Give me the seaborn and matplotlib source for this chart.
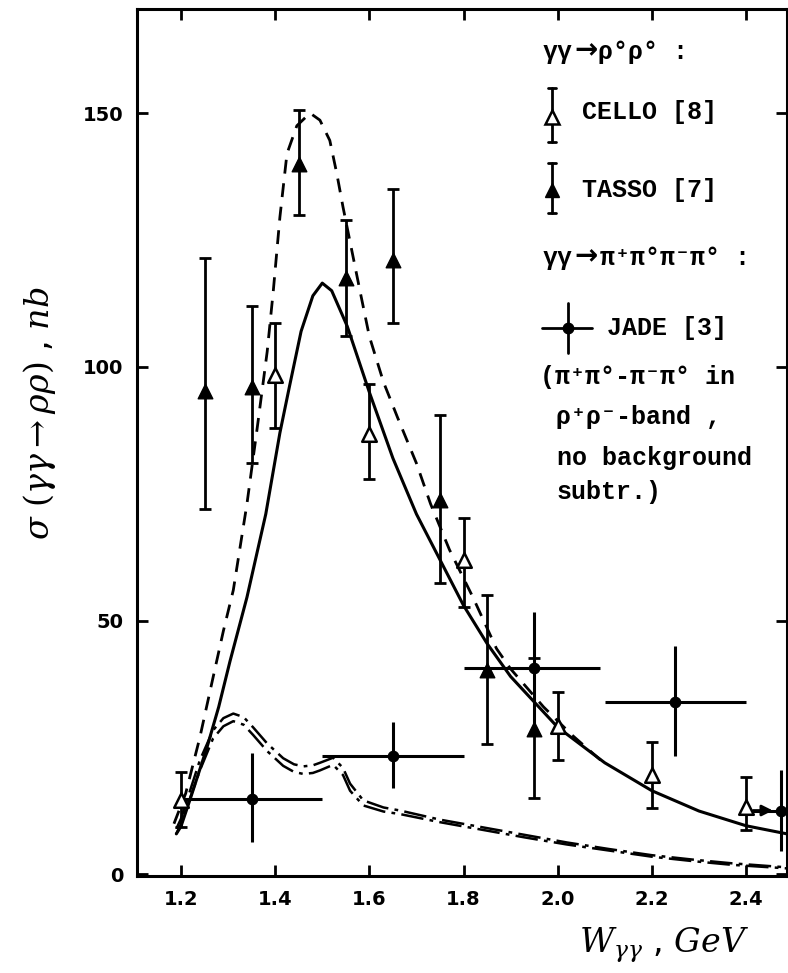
import matplotlib
matplotlib.use("Agg")
import matplotlib.pyplot as plt
import seaborn as sns

# ---------------- data ----------------
# model curves
solid_x = [1.19, 1.20, 1.22, 1.255, 1.28, 1.304, 1.34, 1.38, 1.41, 1.43, 1.455, 1.48, 1.50,
           1.52, 1.553, 1.60, 1.65, 1.70, 1.75, 1.80, 1.85, 1.90, 1.95, 2.00, 2.10, 2.20,
           2.30, 2.40, 2.487]
solid_y = [8, 9.5, 15, 25, 33, 42, 54.6, 71, 87, 96, 107, 114, 116.5,
           115, 108, 95, 82, 71, 62, 53, 45.5, 39, 34, 29, 22, 16.5,
           12.5, 9.6, 8]

dashed_x = [1.185, 1.21, 1.24, 1.268, 1.29, 1.311, 1.34, 1.361, 1.383, 1.396, 1.41, 1.425,
            1.446, 1.474, 1.495, 1.516, 1.531, 1.544, 1.58, 1.60, 1.63, 1.66, 1.70, 1.73,
            1.77, 1.82, 1.87, 1.90, 1.97, 2.03, 2.10]
dashed_y = [10, 16, 27, 38.8, 48, 56, 73, 87.4, 103, 115, 129.5, 142,
            147.5, 150, 148.6, 144.6, 138, 131.5, 115, 106, 97, 90, 81, 73,
            64, 54.6, 44.5, 40.5, 33, 27.5, 21.8]

dd_x = [1.19, 1.20, 1.24, 1.268, 1.29, 1.311, 1.333, 1.353, 1.383, 1.417, 1.44, 1.46, 1.48,
        1.495, 1.523, 1.544, 1.559, 1.587, 1.63, 1.665, 1.75, 1.84, 1.93, 2.02, 2.11, 2.20,
        2.29, 2.37, 2.487]
dd_upper_y = [9, 11, 22.5, 28.4, 30.8, 31.7, 31, 29, 25.8, 22.9, 21.7, 21.3, 21.5,
              22, 23, 21, 17.9, 14.6, 13.2, 12.6, 10.8, 9.3, 7.8, 6.3, 5, 3.8,
              2.9, 2.2, 1.4]
dd_lower_y = [8, 10, 20.5, 26.8, 29.2, 30.2, 29.5, 27.5, 24.3, 21.4, 20.2, 19.8, 20,
              20.5, 21.6, 19.6, 16.5, 13.6, 12.4, 11.9, 10.3, 8.8, 7.3, 5.9, 4.7, 3.5,
              2.6, 1.9, 1.2]

# CELLO (open triangles)
cello_x = [1.2, 1.4, 1.6, 1.8, 2.0, 2.2, 2.4]
cello_y = [14.6, 98.3, 86.8, 61.9, 29.3, 19.5, 13.3]
cello_lo = [5.3, 10.3, 8.8, 9.3, 6.7, 6.5, 4.6]
cello_hi = [5.5, 10.4, 9.9, 8.4, 6.7, 6.5, 6.0]

# TASSO (filled triangles)
tasso_x = [1.25, 1.35, 1.45, 1.55, 1.65, 1.75, 1.85, 1.95]
tasso_y = [95.3, 96, 140, 117.6, 121, 73.7, 40.2, 28.7]
tasso_lo = [23.3, 15, 10, 11.6, 12.3, 16.2, 14.4, 13.7]
tasso_hi = [26.1, 16, 10.6, 11.4, 14, 16.8, 14.8, 14]

# JADE (filled circles, bin widths)
jade_x = [1.35, 1.65, 1.95, 2.25, 2.475]
jade_y = [14.8, 23.4, 40.7, 34, 12.6]
jade_xlo = [0.15, 0.15, 0.15, 0.15, 0.06]
jade_xhi = [0.15, 0.15, 0.14, 0.15, 0.06]
jade_ylo = [8.5, 6.4, 11, 10.6, 7.9]
jade_yhi = [9.2, 6.6, 11, 11, 7.9]

x_ticks = [1.2, 1.4, 1.6, 1.8, 2.0, 2.2, 2.4]
x_tick_labels = ["1.2", "1.4", "1.6", "1.8", "2.0", "2.2", "2.4"]
y_ticks = [0, 50, 100, 150]
y_tick_labels = ["0", "50", "100", "150"]

# ---------------- figure ----------------
sns.set_theme(style="ticks")
plt.rcParams['font.family'] = ['DejaVu Sans']
plt.rcParams['mathtext.fontset'] = 'dejavuserif'

W, H = 788, 973
fig = plt.figure(figsize=(W / 100, H / 100), dpi=100)
fig.patch.set_facecolor('white')
L, R, T, B = 137, 787, 9, 876
ax = fig.add_axes([L / W, 1 - B / H, (R - L) / W, (B - T) / H])
ax.set_facecolor('white')

K = 'black'
sns.lineplot(x=solid_x, y=solid_y, ax=ax, color=K, lw=2.2, sort=False, estimator=None)
sns.lineplot(x=dashed_x, y=dashed_y, ax=ax, color=K, lw=2.0, sort=False, estimator=None,
             linestyle=(0, (5, 3.5)))
sns.lineplot(x=dd_x, y=dd_upper_y, ax=ax, color=K, lw=1.8, sort=False, estimator=None,
             linestyle=(0, (9, 2.5, 1.5, 2.5)))
sns.lineplot(x=dd_x, y=dd_lower_y, ax=ax, color=K, lw=1.8, sort=False, estimator=None,
             linestyle=(3, (9, 2.5, 1.5, 2.5)))

# error bars
ax.errorbar(cello_x, cello_y, yerr=[cello_lo, cello_hi], fmt='none', ecolor=K,
            elinewidth=2, capsize=4, capthick=2, zorder=4)
ax.errorbar(tasso_x, tasso_y, yerr=[tasso_lo, tasso_hi], fmt='none', ecolor=K,
            elinewidth=2, capsize=4, capthick=2, zorder=4)
ax.errorbar(jade_x, jade_y, xerr=[jade_xlo, jade_xhi], yerr=[jade_ylo, jade_yhi],
            fmt='none', ecolor=K, elinewidth=2.2, capsize=0, zorder=4)

sns.scatterplot(x=cello_x, y=cello_y, ax=ax, marker='^', s=110, color='white',
                edgecolor=K, linewidth=1.8, zorder=6)
sns.scatterplot(x=tasso_x, y=tasso_y, ax=ax, marker='^', s=110, color=K,
                edgecolor=K, linewidth=1.0, zorder=6)
sns.scatterplot(x=jade_x, y=jade_y, ax=ax, marker='o', s=55, color=K,
                edgecolor=K, linewidth=1.0, zorder=6)

# arrow on the last JADE bin
ax.annotate('', xy=(jade_x[-1] - 0.018, jade_y[-1]), xytext=(jade_x[-1] - 0.06, jade_y[-1]),
            arrowprops=dict(arrowstyle='-|>', color=K, lw=2, mutation_scale=16,
                            shrinkA=0, shrinkB=0), zorder=5)

ax.set_xlim(1.1065, 2.487)
ax.set_ylim(-0.3, 170.5)
ax.set_xticks(x_ticks)
ax.set_xticklabels(x_tick_labels)
ax.set_yticks(y_ticks)
ax.set_yticklabels(y_tick_labels)
ax.tick_params(direction='in', length=8, width=2, top=True, right=True,
               labelsize=14, pad=10, colors=K)
for lab in ax.get_xticklabels() + ax.get_yticklabels():
    lab.set_fontweight('bold')
for sp in ax.spines.values():
    sp.set_linewidth(2.2)
    sp.set_color(K)

ax.set_xlabel(r"$W_{\gamma\gamma}$ , $GeV$", fontsize=24, color=K)
ax.xaxis.set_label_coords((664 - L) / (R - L), (B - 945) / (B - T))
ax.xaxis.label.set_va('center')
ax.set_ylabel(r"$\sigma\ (\gamma\gamma \rightarrow \rho\rho)$ , $nb$", fontsize=24, color=K)
ax.yaxis.set_label_coords((40 - L) / (R - L), (B - 413) / (B - T))
ax.yaxis.label.set_va('center')

# ---------------- legend (hand drawn style) ----------------
def ax_frac(px, py):
    return ((px - L) / (R - L), (B - py) / (B - T))

mono = ['Liberation Mono', 'DejaVu Sans Mono']
tkw = dict(transform=ax.transAxes, fontsize=18, family=mono, fontweight='bold',
           ha='left', va='center', color=K)
akw = dict(tkw)
akw['family'] = ['DejaVu Sans']
akw['fontsize'] = 20

ax.text(*ax_frac(543, 52), "γγ", **tkw)
ax.text(*ax_frac(574, 50), "→", **akw)
ax.text(*ax_frac(598, 52), "ρ°ρ° :", **tkw)
ax.text(*ax_frac(582, 112), "CELLO [8]", **tkw)
ax.text(*ax_frac(582, 190), "TASSO [7]", **tkw)
ax.text(*ax_frac(543, 258), "γγ", **tkw)
ax.text(*ax_frac(574, 256), "→", **akw)
ax.text(*ax_frac(600, 258), "π⁺π°π⁻π° :", **tkw)
ax.text(*ax_frac(607, 328), "JADE [3]", **tkw)
ax.text(*ax_frac(540, 377), "(π⁺π°-π⁻π° in", **tkw)
ax.text(*ax_frac(556, 417), "ρ⁺ρ⁻-band ,", **tkw)
ax.text(*ax_frac(557, 458), "no background", **tkw)
ax.text(*ax_frac(557, 492), "subtr.)", **tkw)

# legend glyphs
tr = ax.transAxes
def vbar(px, y0, y1, cap=True):
    x0, a = ax_frac(px, y0)
    _, b = ax_frac(px, y1)
    ax.plot([x0, x0], [a, b], color=K, lw=2, transform=tr, clip_on=False)
    if cap:
        for yy in (a, b):
            ax.plot([x0 - 0.006, x0 + 0.006], [yy, yy], color=K, lw=2, transform=tr, clip_on=False)

vbar(552, 88, 142)
ax.plot(*ax_frac(552, 117), marker='^', ms=10.5, mfc='white', mec=K, mew=1.8,
        transform=tr, clip_on=False, zorder=6)
vbar(552, 163, 213)
ax.plot(*ax_frac(552, 190), marker='^', ms=10.5, mfc=K, mec=K, transform=tr,
        clip_on=False, zorder=6)
vbar(568, 303, 353, cap=False)
xa, ya = ax_frac(542, 328)
xb, _ = ax_frac(592, 328)
ax.plot([xa, xb], [ya, ya], color=K, lw=2, transform=tr, clip_on=False)
ax.plot(*ax_frac(568, 328), marker='o', ms=7.5, mfc=K, mec=K, transform=tr,
        clip_on=False, zorder=6)

fig.savefig("out.png", dpi=100, facecolor='white')
